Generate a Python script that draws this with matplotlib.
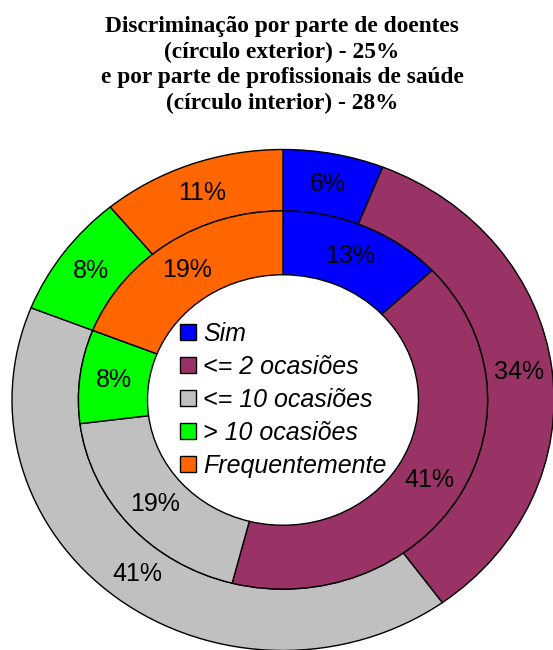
import numpy as np
import matplotlib.pyplot as plt

# -------- DATA --------
categories = ['Sim', '<= 2 ocasiões', '<= 10 ocasiões', '> 10 ocasiões', 'Frequentemente']
doentes = [6, 34, 41, 8, 11]          # outer ring
profissionais = [13, 41, 19, 8, 19]   # inner ring
colors = ['#0000FF', '#993366', '#C0C0C0', '#00FF00', '#FF6600']

title = ('Discriminação por parte de doentes\n'
         '(círculo exterior) - 25%\n'
         'e por parte de profissionais de saúde\n'
         '(círculo interior) - 28%')

# -------- FIGURE --------
W, H = 553, 650
fig = plt.figure(figsize=(W / 100, H / 100), dpi=100)

# pie is a bit squashed vertically in the original -> axes box in pixels
cx, cy, rx, ry = 283, 400, 271, 250.5
ax = fig.add_axes([(cx - rx) / W, (H - cy - ry) / H, 2 * rx / W, 2 * ry / H])

r_out, r_mid, r_in = 1.0, 0.755, 0.50
wp = dict(edgecolor='black', linewidth=1.0)
tp = dict(family='Liberation Sans', fontsize=18, color='black')

w_out, _, _ = ax.pie(doentes, colors=colors, startangle=90, counterclock=False,
                     radius=r_out, wedgeprops=dict(width=r_out - r_mid, **wp),
                     autopct=lambda p: f'{p:.0f}%',
                     pctdistance=(r_out + r_mid) / 2 / r_out, textprops=tp)
ax.pie(profissionais, colors=colors, startangle=90, counterclock=False,
       radius=r_mid, wedgeprops=dict(width=r_mid - r_in, **wp),
       autopct=lambda p: f'{p:.0f}%',
       pctdistance=(r_mid + r_in) / 2 / r_mid, textprops=tp)

ax.set_aspect('auto')
ax.set_xlim(-1, 1)
ax.set_ylim(-1, 1)
ax.axis('off')

ax.legend(w_out, categories, loc='center', bbox_to_anchor=(0.5, 0.5),
          frameon=False, prop=dict(family='Liberation Sans', style='italic', size=18),
          handlelength=0.64, handleheight=0.64, handletextpad=0.3,
          labelspacing=0.36, borderpad=0)

fig.text(0.51, 1 - 16 / H, title, ha='center', va='top', fontsize=16.8,
         fontweight='bold', family='Liberation Serif', linespacing=1.28)

fig.savefig('out.png', dpi=100)
